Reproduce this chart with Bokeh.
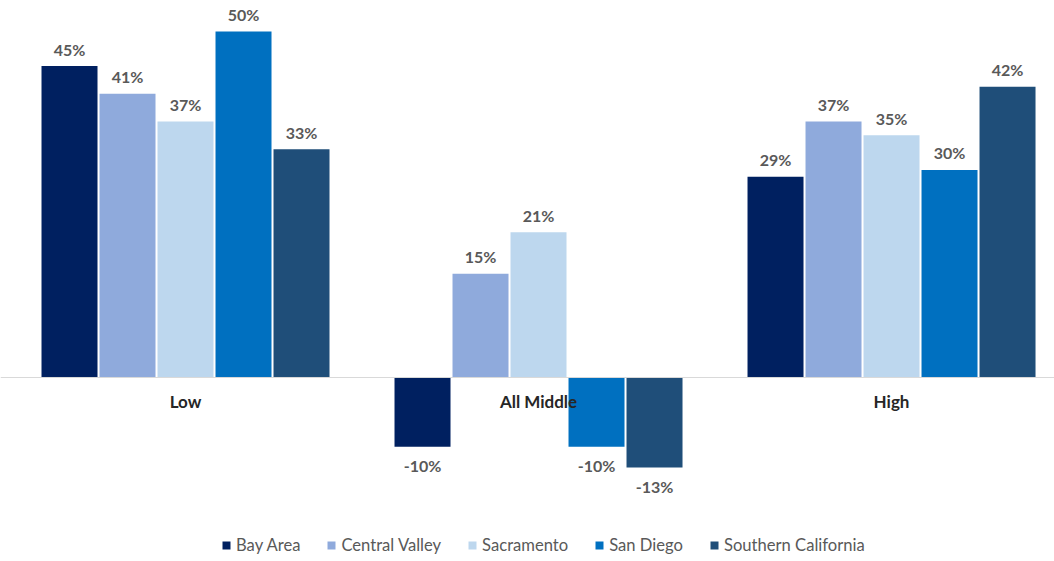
from bokeh.plotting import figure
from bokeh.models import ColumnDataSource, Range1d, Span
from bokeh.core.properties import value
from bokeh.embed import file_html
from bokeh.resources import INLINE

categories = ["Low", "All Middle", "High"]
series = ["Bay Area", "Central Valley", "Sacramento", "San Diego", "Southern California"]
bay_area = [45, -10, 29]
central_valley = [41, 15, 37]
sacramento = [37, 21, 35]
san_diego = [50, -10, 30]
southern_california = [33, -13, 42]
colors = ["#002060", "#8FAADC", "#BDD7EE", "#0070C0", "#1F4E79"]

values_by_series = [bay_area, central_valley, sacramento, san_diego, southern_california]

FONT = "Lato"
PX_PER_UNIT = 353.0
bar_w = 56 / PX_PER_UNIT
pitch = 58 / PX_PER_UNIT

p = figure(width=1054, height=561, output_backend="svg", toolbar_location=None,
           x_range=Range1d(-0.5241, 2.4617), y_range=Range1d(-26.59, 54.48),
           min_border=0, min_border_left=0, min_border_right=0,
           min_border_top=0, min_border_bottom=0)
p.outline_line_color = None
p.xaxis.visible = False
p.yaxis.visible = False
p.xgrid.visible = False
p.ygrid.visible = False
p.background_fill_color = "white"
p.border_fill_color = "white"

zero = Span(location=0, dimension="width", line_color="#D9D9D9", line_width=1)
p.add_layout(zero)

for i, (name, vals, col) in enumerate(zip(series, values_by_series, colors)):
    xs = [c + (i - 2) * pitch for c in range(len(categories))]
    src = ColumnDataSource(dict(
        x=xs, top=vals,
        label=[f"{v}%" for v in vals],
        yoff=[-17 if v >= 0 else 19 for v in vals],
    ))
    p.vbar(x="x", top="top", bottom=0, width=bar_w, source=src,
           fill_color=col, line_color=None, legend_label=name)
    p.text(x="x", y="top", text="label", y_offset="yoff", source=src,
           text_align="center", text_baseline="middle",
           text_font=value(FONT), text_font_style="bold",
           text_font_size="16px", text_color="#595959")

cat_src = ColumnDataSource(dict(x=list(range(len(categories))), y=[0] * len(categories),
                                text=categories))
p.text(x="x", y="y", text="text", source=cat_src, y_offset=24,
       text_align="center", text_baseline="middle",
       text_font=value(FONT), text_font_style="bold",
       text_font_size="17px", text_color="#262626")

lg = p.legend[0]
lg.orientation = "horizontal"
lg.location = (221, 6)
lg.margin = 0
lg.padding = 0
lg.spacing = 26
lg.border_line_color = None
lg.background_fill_alpha = 0
lg.glyph_width = 10
lg.glyph_height = 10
lg.label_standoff = 5
lg.label_text_font = FONT
lg.label_text_font_size = "16.6px"
lg.label_text_color = "#595959"
lg.label_height = 16

open("out.html", "w").write(file_html(p, INLINE))
